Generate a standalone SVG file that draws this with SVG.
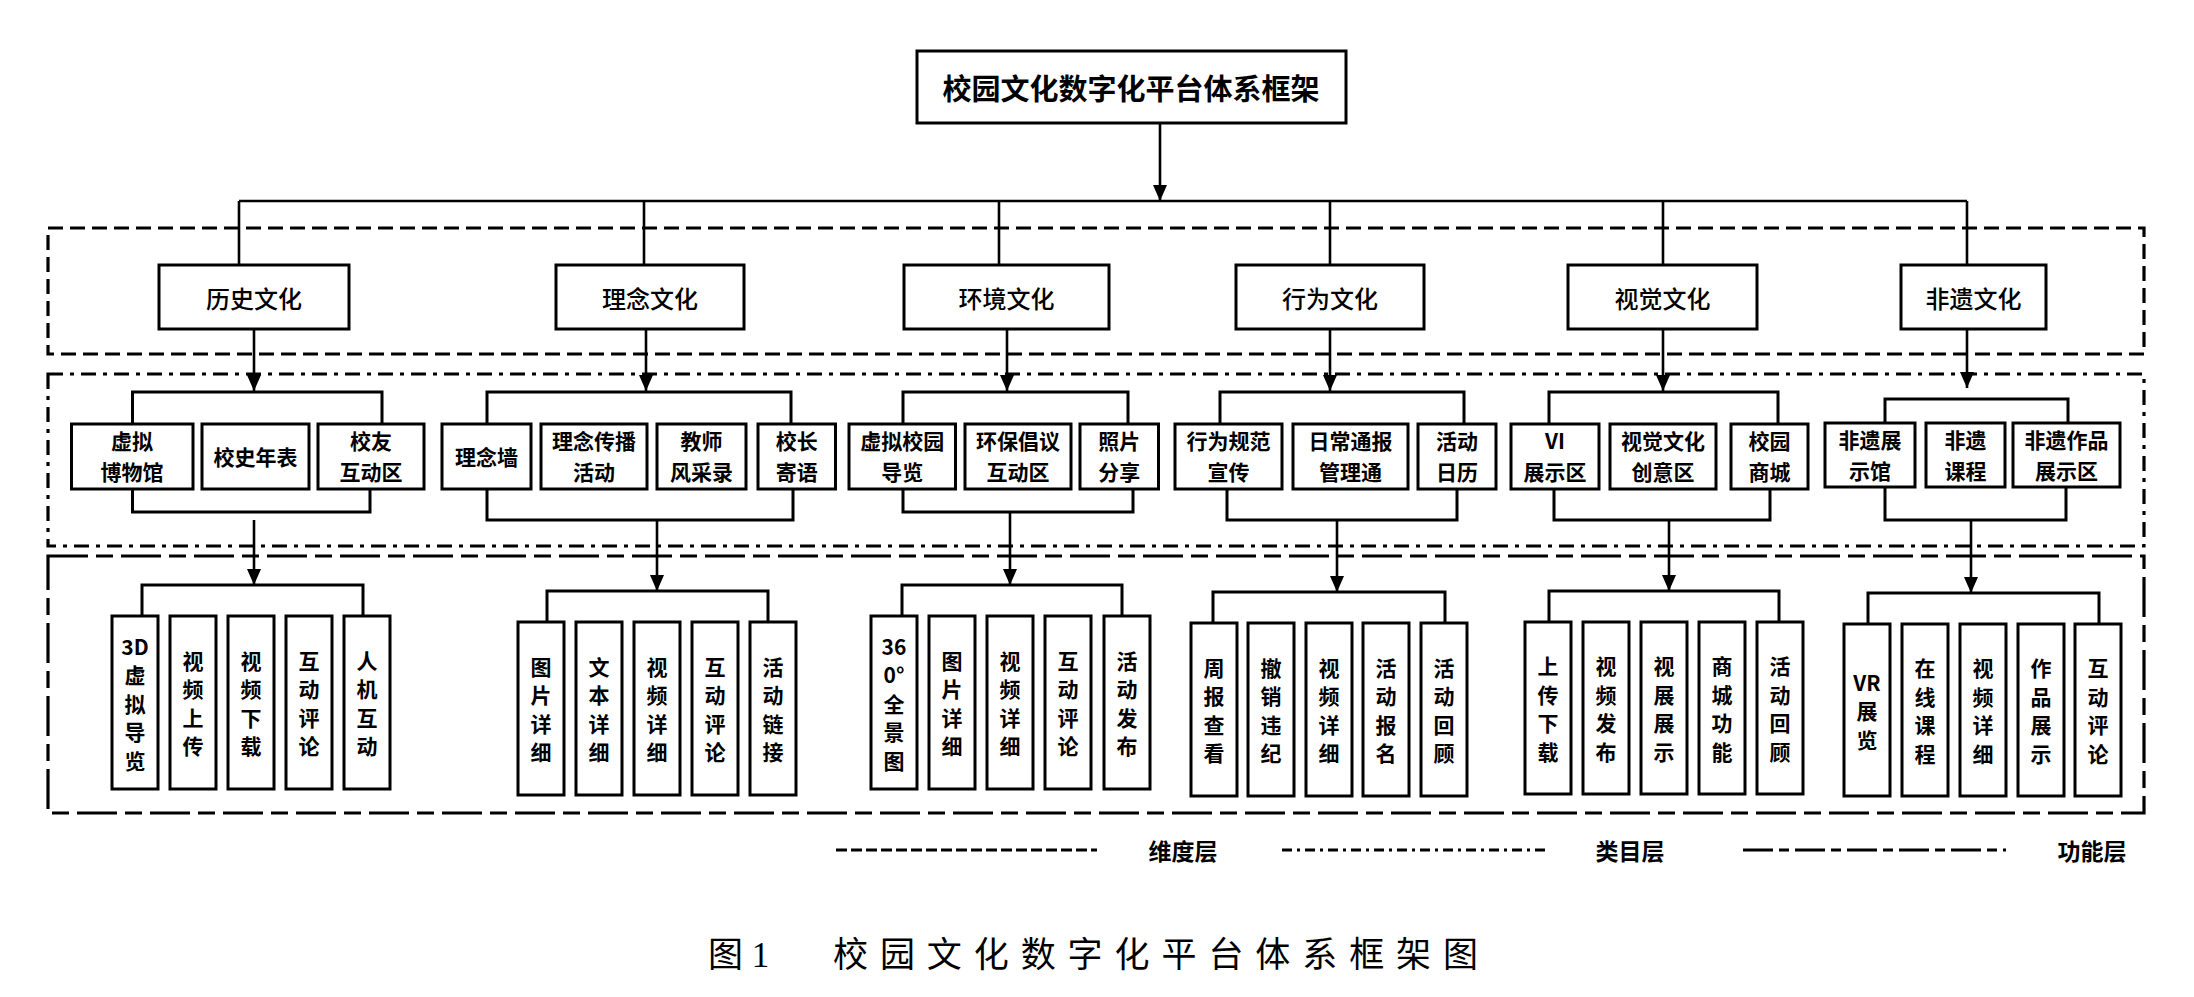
<svg xmlns="http://www.w3.org/2000/svg" width="2194" height="997" viewBox="0 0 2194 997">
<style>
  .b{fill:#fff;stroke:#000;stroke-width:3}
  .c{fill:none;stroke:#000;stroke-width:2.6}
  .t{font-family:"Noto Sans CJK SC","Liberation Sans",sans-serif;fill:#000;text-anchor:middle;dominant-baseline:central}
  .t0{font-size:29px;font-weight:700}
  .t1{font-size:24px;font-weight:500}
  .t2{font-size:21px;font-weight:700}
  .t3{font-size:21px;font-weight:700}
  .lg{font-family:"Noto Sans CJK SC","Liberation Sans",sans-serif;font-size:23px;font-weight:700;text-anchor:middle;dominant-baseline:central}
  .cap{font-family:"Liberation Serif","Noto Sans CJK SC",serif;font-size:35px;dominant-baseline:central}
  .L1{fill:none;stroke:#000;stroke-width:3.2;stroke-dasharray:15 7}
  .L2{fill:none;stroke:#000;stroke-width:3.2;stroke-dasharray:15 7 4 7}
  .L3{fill:none;stroke:#000;stroke-width:3.2;stroke-dasharray:40 8 17 8}
</style>
<defs>
  <marker id="ah" markerUnits="userSpaceOnUse" markerWidth="16" markerHeight="14" refX="16" refY="7" orient="auto">
    <path d="M0,0 L16,7 L0,14 z" fill="#000"/>
  </marker>
</defs>
<rect width="2194" height="997" fill="#fff"/>

<g id="layers">
  <rect class="L1" x="48" y="228" width="2096" height="126"/>
  <rect class="L2" x="48" y="374" width="2096" height="172"/>
  <rect class="L3" x="48" y="556" width="2096" height="257"/>
</g>

<g id="connectors">
  <path class="c" d="M1160,123 V201" marker-end="url(#ah)"/>
  <path class="c" d="M239,201 H1967"/>
  <path class="c" d="M239,201 V265 M644,201 V265 M999,201 V265 M1330,201 V265 M1663,201 V265 M1967,201 V265"/>
  <path class="c" d="M254,329 V391" marker-end="url(#ah)"/>
  <path class="c" d="M646,329 V391" marker-end="url(#ah)"/>
  <path class="c" d="M1007,329 V391" marker-end="url(#ah)"/>
  <path class="c" d="M1330,329 V391" marker-end="url(#ah)"/>
  <path class="c" d="M1663,329 V391" marker-end="url(#ah)"/>
  <path class="c" d="M1967,329 V388" marker-end="url(#ah)"/>
  <path class="c" style="stroke-width:3" d="M132.5,424 V392 H382 V424 M487,424 V392 H791 V424 M903,424 V392 H1128 V424 M1220,424 V392 H1464 V424 M1549,424 V392 H1778 V424 M1885,423 V399 H2068 V423"/>
  <path class="c" style="stroke-width:3" d="M132.5,489 V512 H370 V489 M487,489 V520 H793 V489 M903,489 V512 H1133 V489 M1227,489 V520 H1457 V489 M1554,489 V520 H1770 V489 M1885,487 V520 H2066 V487"/>
  <path class="c" d="M254,520 V585" marker-end="url(#ah)"/>
  <path class="c" d="M657,520 V591" marker-end="url(#ah)"/>
  <path class="c" d="M1010,512 V585" marker-end="url(#ah)"/>
  <path class="c" d="M1337,520 V592" marker-end="url(#ah)"/>
  <path class="c" d="M1669,520 V591" marker-end="url(#ah)"/>
  <path class="c" d="M1971,520 V593" marker-end="url(#ah)"/>
  <path class="c" style="stroke-width:3" d="M142,616 V585 H363 V616 M547,622 V591 H768 V622 M902,616 V585 H1122 V616 M1213,623 V592 H1445 V623 M1549,622 V591 H1779 V622 M1868,624 V593 H2099 V624"/>
</g>

<g id="root">
  <rect class="b" x="917" y="51" width="429" height="72"/>
  <text class="t t0" x="1131" y="87">校园文化数字化平台体系框架</text>
</g>

<g id="l1-history"><rect class="b" x="159" y="265" width="190" height="64"/><text class="t t1" x="254" y="297">历史文化</text></g>
<g id="l1-idea"><rect class="b" x="556" y="265" width="188" height="64"/><text class="t t1" x="650" y="297">理念文化</text></g>
<g id="l1-env"><rect class="b" x="904" y="265" width="205" height="64"/><text class="t t1" x="1006.5" y="297">环境文化</text></g>
<g id="l1-behavior"><rect class="b" x="1236" y="265" width="188" height="64"/><text class="t t1" x="1330" y="297">行为文化</text></g>
<g id="l1-visual"><rect class="b" x="1568" y="265" width="189" height="64"/><text class="t t1" x="1662.5" y="297">视觉文化</text></g>
<g id="l1-ich"><rect class="b" x="1901" y="265" width="145" height="64"/><text class="t t1" x="1973.5" y="297">非遗文化</text></g>

<!-- level 2 -->
<g id="l2-h1"><rect class="b" x="71.5" y="424" width="121.5" height="65"/><text class="t t2" x="132" y="440">虚拟<tspan x="132" dy="31">博物馆</tspan></text></g>
<g id="l2-h2"><rect class="b" x="202" y="424" width="107" height="65"/><text class="t t2" x="255.5" y="456">校史年表</text></g>
<g id="l2-h3"><rect class="b" x="318" y="424" width="106" height="65"/><text class="t t2" x="371" y="440">校友<tspan x="371" dy="31">互动区</tspan></text></g>

<g id="l2-i1"><rect class="b" x="442" y="424" width="89" height="65"/><text class="t t2" x="486.5" y="456">理念墙</text></g>
<g id="l2-i2"><rect class="b" x="541" y="424" width="106" height="65"/><text class="t t2" x="594" y="440">理念传播<tspan x="594" dy="31">活动</tspan></text></g>
<g id="l2-i3"><rect class="b" x="657" y="424" width="89" height="65"/><text class="t t2" x="701.5" y="440">教师<tspan x="701.5" dy="31">风采录</tspan></text></g>
<g id="l2-i4"><rect class="b" x="758" y="424" width="77.5" height="65"/><text class="t t2" x="796.75" y="440">校长<tspan x="796.75" dy="31">寄语</tspan></text></g>

<g id="l2-e1"><rect class="b" x="849" y="424" width="106.5" height="65"/><text class="t t2" x="902.25" y="440">虚拟校园<tspan x="902.25" dy="31">导览</tspan></text></g>
<g id="l2-e2"><rect class="b" x="965" y="424" width="106" height="65"/><text class="t t2" x="1018" y="440">环保倡议<tspan x="1018" dy="31">互动区</tspan></text></g>
<g id="l2-e3"><rect class="b" x="1080" y="424" width="78.5" height="65"/><text class="t t2" x="1119.25" y="440">照片<tspan x="1119.25" dy="31">分享</tspan></text></g>

<g id="l2-b1"><rect class="b" x="1175" y="424" width="107" height="65"/><text class="t t2" x="1228.5" y="440">行为规范<tspan x="1228.5" dy="31">宣传</tspan></text></g>
<g id="l2-b2"><rect class="b" x="1293" y="424" width="115" height="65"/><text class="t t2" x="1350.5" y="440">日常通报<tspan x="1350.5" dy="31">管理通</tspan></text></g>
<g id="l2-b3"><rect class="b" x="1418" y="424" width="78" height="65"/><text class="t t2" x="1457" y="440">活动<tspan x="1457" dy="31">日历</tspan></text></g>

<g id="l2-v1"><rect class="b" x="1511" y="424" width="88" height="65"/><text class="t t2" x="1555" y="440">VI<tspan x="1555" dy="31">展示区</tspan></text></g>
<g id="l2-v2"><rect class="b" x="1610" y="424" width="106" height="65"/><text class="t t2" x="1663" y="440">视觉文化<tspan x="1663" dy="31">创意区</tspan></text></g>
<g id="l2-v3"><rect class="b" x="1731" y="424" width="77" height="65"/><text class="t t2" x="1769.5" y="440">校园<tspan x="1769.5" dy="31">商城</tspan></text></g>

<g id="l2-n1"><rect class="b" x="1825" y="423" width="90" height="64"/><text class="t t2" x="1870" y="439">非遗展<tspan x="1870" dy="31">示馆</tspan></text></g>
<g id="l2-n2"><rect class="b" x="1926" y="423" width="79" height="64"/><text class="t t2" x="1965.5" y="439">非遗<tspan x="1965.5" dy="31">课程</tspan></text></g>
<g id="l2-n3"><rect class="b" x="2013" y="423" width="107" height="64"/><text class="t t2" x="2066.5" y="439">非遗作品<tspan x="2066.5" dy="31">展示区</tspan></text></g>

<!-- level 3: history -->
<g id="l3-h1"><rect class="b" x="112" y="616" width="46" height="173"/><text class="t t3" x="135" y="645.5">3D<tspan x="135" dy="28.5">虚</tspan><tspan x="135" dy="28.5">拟</tspan><tspan x="135" dy="28.5">导</tspan><tspan x="135" dy="28.5">览</tspan></text></g>
<g id="l3-h2"><rect class="b" x="170" y="616" width="46" height="173"/><text class="t t3" x="193" y="659.75">视<tspan x="193" dy="28.5">频</tspan><tspan x="193" dy="28.5">上</tspan><tspan x="193" dy="28.5">传</tspan></text></g>
<g id="l3-h3"><rect class="b" x="228" y="616" width="46" height="173"/><text class="t t3" x="251" y="659.75">视<tspan x="251" dy="28.5">频</tspan><tspan x="251" dy="28.5">下</tspan><tspan x="251" dy="28.5">载</tspan></text></g>
<g id="l3-h4"><rect class="b" x="286" y="616" width="46" height="173"/><text class="t t3" x="309" y="659.75">互<tspan x="309" dy="28.5">动</tspan><tspan x="309" dy="28.5">评</tspan><tspan x="309" dy="28.5">论</tspan></text></g>
<g id="l3-h5"><rect class="b" x="344" y="616" width="46" height="173"/><text class="t t3" x="367" y="659.75">人<tspan x="367" dy="28.5">机</tspan><tspan x="367" dy="28.5">互</tspan><tspan x="367" dy="28.5">动</tspan></text></g>

<!-- level 3: idea -->
<g id="l3-i1"><rect class="b" x="518" y="622" width="46" height="173"/><text class="t t3" x="541" y="665.75">图<tspan x="541" dy="28.5">片</tspan><tspan x="541" dy="28.5">详</tspan><tspan x="541" dy="28.5">细</tspan></text></g>
<g id="l3-i2"><rect class="b" x="576" y="622" width="46" height="173"/><text class="t t3" x="599" y="665.75">文<tspan x="599" dy="28.5">本</tspan><tspan x="599" dy="28.5">详</tspan><tspan x="599" dy="28.5">细</tspan></text></g>
<g id="l3-i3"><rect class="b" x="634" y="622" width="46" height="173"/><text class="t t3" x="657" y="665.75">视<tspan x="657" dy="28.5">频</tspan><tspan x="657" dy="28.5">详</tspan><tspan x="657" dy="28.5">细</tspan></text></g>
<g id="l3-i4"><rect class="b" x="692" y="622" width="46" height="173"/><text class="t t3" x="715" y="665.75">互<tspan x="715" dy="28.5">动</tspan><tspan x="715" dy="28.5">评</tspan><tspan x="715" dy="28.5">论</tspan></text></g>
<g id="l3-i5"><rect class="b" x="750" y="622" width="46" height="173"/><text class="t t3" x="773" y="665.75">活<tspan x="773" dy="28.5">动</tspan><tspan x="773" dy="28.5">链</tspan><tspan x="773" dy="28.5">接</tspan></text></g>

<!-- level 3: environment -->
<g id="l3-e1"><rect class="b" x="871" y="616" width="46" height="173"/><text class="t t3" x="894" y="645.5">36<tspan x="894" dy="28.5">0°</tspan><tspan x="894" dy="28.5">全</tspan><tspan x="894" dy="28.5">景</tspan><tspan x="894" dy="28.5">图</tspan></text></g>
<g id="l3-e2"><rect class="b" x="929" y="616" width="46" height="173"/><text class="t t3" x="952" y="659.75">图<tspan x="952" dy="28.5">片</tspan><tspan x="952" dy="28.5">详</tspan><tspan x="952" dy="28.5">细</tspan></text></g>
<g id="l3-e3"><rect class="b" x="987" y="616" width="46" height="173"/><text class="t t3" x="1010" y="659.75">视<tspan x="1010" dy="28.5">频</tspan><tspan x="1010" dy="28.5">详</tspan><tspan x="1010" dy="28.5">细</tspan></text></g>
<g id="l3-e4"><rect class="b" x="1045" y="616" width="46" height="173"/><text class="t t3" x="1068" y="659.75">互<tspan x="1068" dy="28.5">动</tspan><tspan x="1068" dy="28.5">评</tspan><tspan x="1068" dy="28.5">论</tspan></text></g>
<g id="l3-e5"><rect class="b" x="1104" y="616" width="46" height="173"/><text class="t t3" x="1127" y="659.75">活<tspan x="1127" dy="28.5">动</tspan><tspan x="1127" dy="28.5">发</tspan><tspan x="1127" dy="28.5">布</tspan></text></g>

<!-- level 3: behavior -->
<g id="l3-b1"><rect class="b" x="1191" y="623" width="46" height="173"/><text class="t t3" x="1214" y="666.75">周<tspan x="1214" dy="28.5">报</tspan><tspan x="1214" dy="28.5">查</tspan><tspan x="1214" dy="28.5">看</tspan></text></g>
<g id="l3-b2"><rect class="b" x="1248" y="623" width="46" height="173"/><text class="t t3" x="1271" y="666.75">撤<tspan x="1271" dy="28.5">销</tspan><tspan x="1271" dy="28.5">违</tspan><tspan x="1271" dy="28.5">纪</tspan></text></g>
<g id="l3-b3"><rect class="b" x="1306" y="623" width="46" height="173"/><text class="t t3" x="1329" y="666.75">视<tspan x="1329" dy="28.5">频</tspan><tspan x="1329" dy="28.5">详</tspan><tspan x="1329" dy="28.5">细</tspan></text></g>
<g id="l3-b4"><rect class="b" x="1363" y="623" width="46" height="173"/><text class="t t3" x="1386" y="666.75">活<tspan x="1386" dy="28.5">动</tspan><tspan x="1386" dy="28.5">报</tspan><tspan x="1386" dy="28.5">名</tspan></text></g>
<g id="l3-b5"><rect class="b" x="1421" y="623" width="46" height="173"/><text class="t t3" x="1444" y="666.75">活<tspan x="1444" dy="28.5">动</tspan><tspan x="1444" dy="28.5">回</tspan><tspan x="1444" dy="28.5">顾</tspan></text></g>

<!-- level 3: visual -->
<g id="l3-v1"><rect class="b" x="1525" y="622" width="46" height="172"/><text class="t t3" x="1548" y="665.25">上<tspan x="1548" dy="28.5">传</tspan><tspan x="1548" dy="28.5">下</tspan><tspan x="1548" dy="28.5">载</tspan></text></g>
<g id="l3-v2"><rect class="b" x="1583" y="622" width="46" height="172"/><text class="t t3" x="1606" y="665.25">视<tspan x="1606" dy="28.5">频</tspan><tspan x="1606" dy="28.5">发</tspan><tspan x="1606" dy="28.5">布</tspan></text></g>
<g id="l3-v3"><rect class="b" x="1641" y="622" width="46" height="172"/><text class="t t3" x="1664" y="665.25">视<tspan x="1664" dy="28.5">展</tspan><tspan x="1664" dy="28.5">展</tspan><tspan x="1664" dy="28.5">示</tspan></text></g>
<g id="l3-v4"><rect class="b" x="1699" y="622" width="46" height="172"/><text class="t t3" x="1722" y="665.25">商<tspan x="1722" dy="28.5">城</tspan><tspan x="1722" dy="28.5">功</tspan><tspan x="1722" dy="28.5">能</tspan></text></g>
<g id="l3-v5"><rect class="b" x="1757" y="622" width="46" height="172"/><text class="t t3" x="1780" y="665.25">活<tspan x="1780" dy="28.5">动</tspan><tspan x="1780" dy="28.5">回</tspan><tspan x="1780" dy="28.5">顾</tspan></text></g>

<!-- level 3: intangible heritage -->
<g id="l3-n1"><rect class="b" x="1844" y="624" width="46" height="172"/><text class="t t3" x="1867" y="681.5">VR<tspan x="1867" dy="28.5">展</tspan><tspan x="1867" dy="28.5">览</tspan></text></g>
<g id="l3-n2"><rect class="b" x="1902" y="624" width="46" height="172"/><text class="t t3" x="1925" y="667.25">在<tspan x="1925" dy="28.5">线</tspan><tspan x="1925" dy="28.5">课</tspan><tspan x="1925" dy="28.5">程</tspan></text></g>
<g id="l3-n3"><rect class="b" x="1960" y="624" width="46" height="172"/><text class="t t3" x="1983" y="667.25">视<tspan x="1983" dy="28.5">频</tspan><tspan x="1983" dy="28.5">详</tspan><tspan x="1983" dy="28.5">细</tspan></text></g>
<g id="l3-n4"><rect class="b" x="2018" y="624" width="46" height="172"/><text class="t t3" x="2041" y="667.25">作<tspan x="2041" dy="28.5">品</tspan><tspan x="2041" dy="28.5">展</tspan><tspan x="2041" dy="28.5">示</tspan></text></g>
<g id="l3-n5"><rect class="b" x="2075" y="624" width="46" height="172"/><text class="t t3" x="2098" y="667.25">互<tspan x="2098" dy="28.5">动</tspan><tspan x="2098" dy="28.5">评</tspan><tspan x="2098" dy="28.5">论</tspan></text></g>

<g id="legend">
  <line x1="836" y1="850" x2="1097" y2="850" style="stroke:#000;stroke-width:3;stroke-dasharray:11 4"/>
  <text class="lg" x="1183" y="850">维度层</text>
  <line x1="1282" y1="850" x2="1545" y2="850" style="stroke:#000;stroke-width:3;stroke-dasharray:10 5 3 5"/>
  <text class="lg" x="1630" y="850">类目层</text>
  <line x1="1743" y1="850" x2="2006" y2="850" style="stroke:#000;stroke-width:3;stroke-dasharray:30 6 10 6"/>
  <text class="lg" x="2092" y="850">功能层</text>
</g>

<g id="caption">
  <text class="cap" x="708" y="955">图 1</text>
  <text class="cap" x="833" y="955" textLength="645" lengthAdjust="spacing">校园文化数字化平台体系框架图</text>
</g>
</svg>
